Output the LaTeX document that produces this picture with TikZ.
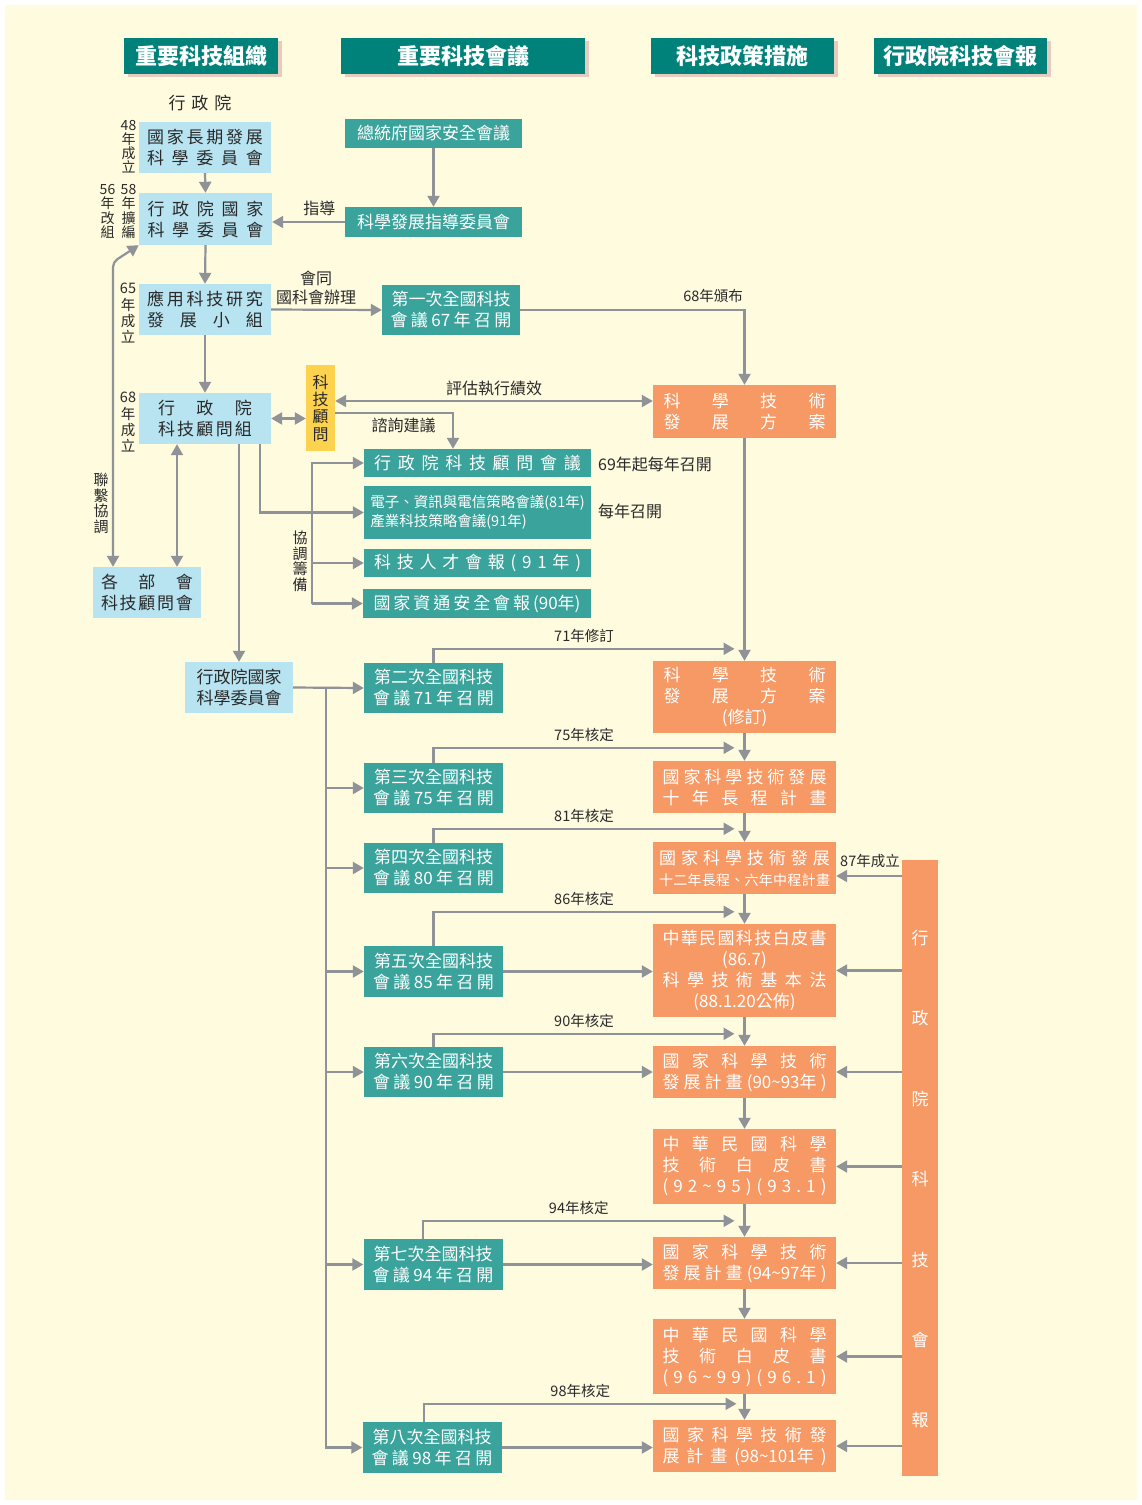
\documentclass[tikz,border=0pt]{standalone}
\usepackage{fontspec}
\setmainfont{Noto Sans CJK TC}
\usetikzlibrary{arrows.meta,shadows}
\definecolor{bgcream}{HTML}{FFFBDF}
\definecolor{hdteal}{HTML}{00827A}
\definecolor{hdshade}{HTML}{E6CBBE}
\definecolor{orgblue}{HTML}{B8E3F1}
\definecolor{mtgteal}{HTML}{3AA39B}
\definecolor{plorange}{HTML}{F79965}
\definecolor{advyellow}{HTML}{FDD24E}
\definecolor{lngray}{HTML}{8F9297}
\definecolor{txtdark}{HTML}{2A2A2A}
% spread a line of spaced characters to a fixed width
\newcommand\sprd[2]{{\spaceskip=0pt plus 1fil\xspaceskip=0pt plus 1fil\makebox[#1pt][s]{#2}}}
\lineskiplimit=-30pt

\begin{document}
\begin{tikzpicture}[x=1pt,y=-1pt,
  >={Triangle[length=11pt,width=12pt]},
  hd/.style={fill=hdteal, text=white, inner sep=0pt, minimum height=36,
    font=\fontsize{22}{24}\selectfont\bfseries,
    drop shadow={shadow xshift=4pt,shadow yshift=-3pt,fill=hdshade,opacity=1}},
  org/.style={fill=orgblue, text=txtdark, inner sep=0pt, align=center, font=\fontsize{17}{21}\selectfont},
  mtg/.style={fill=mtgteal, text=white, inner sep=0pt, align=center, font=\fontsize{17}{21}\selectfont},
  conf/.style={mtg, minimum width=139, minimum height=50},
  plan/.style={fill=plorange, text=white, inner sep=0pt, align=center, minimum width=183, font=\fontsize{17}{21}\selectfont},
  lab/.style={text=txtdark, inner sep=0pt, align=center, font=\fontsize{16}{18.5}\selectfont},
  yrk/.style={text=txtdark, inner sep=0pt, font=\fontsize{14.5}{16}\selectfont},
  yr/.style={text=txtdark, inner sep=0pt, anchor=north, align=center},
  conn/.style={draw=lngray, line width=2.2pt}]
\useasboundingbox (0,0) rectangle (1142,1505);
\fill[white] (0,0) rectangle (1142,1505);
\fill[bgcream] (5,5) rectangle (1137,1500);

% column heads
\node[hd, minimum width=154] (hdA) at (201,56) {重要科技組織};
\node[hd, minimum width=244] (hdB) at (463,56) {重要科技會議};
\node[hd, minimum width=183] (hdC) at (742.5,56) {科技政策措施};
\node[hd, minimum width=173] (hdD) at (960.5,56) {行政院科技會報};

% organisations
\node[lab, font=\fontsize{17}{20}\selectfont] (ey) at (200,103) {\sprd{63}{行 政 院}};
\node[org, minimum width=132, minimum height=51] (nsc48) at (205,147.5) {\sprd{116}{國 家 長 期 發 展}\\\sprd{116}{科 學 委 員 會}};
\node[org, minimum width=133, minimum height=52] (nsc56) at (205.5,219) {\sprd{116}{行 政 院 國 家}\\\sprd{116}{科 學 委 員 會}};
\node[org, minimum width=132, minimum height=51] (app65) at (205,309.5) {\sprd{116}{應 用 科 技 研 究}\\\sprd{116}{發 展 小 組}};
\node[org, minimum width=132, minimum height=51] (stag68) at (205,418.5) {\sprd{94}{行 政 院}\\\sprd{94}{科 技 顧 問 組}};
\node[org, minimum width=108, minimum height=51] (mins) at (147,592.5) {\sprd{92}{各 部 會}\\\sprd{92}{科 技 顧 問 會}};
\node[org, minimum width=108, minimum height=51] (nsc2) at (239,687.5) {行政院國家\\科學委員會};
\node[fill=advyellow, text=txtdark, inner sep=0pt, minimum width=29, minimum height=86, align=center,
  font=\fontsize{16}{17.3}\selectfont] (adv) at (320.5,408) {科\\技\\顧\\問};

\node[yr, font=\fontsize{14}{14}\selectfont] (y48) at (128.5,120) {48\\年\\成\\立};
\node[yr, font=\fontsize{14}{14.5}\selectfont] (y58) at (128.5,184) {58\\年\\擴\\編};
\node[yr, font=\fontsize{14}{14.5}\selectfont] (y56) at (107.5,184) {56\\年\\改\\組};
\node[yr, font=\fontsize{14.5}{16.3}\selectfont] (y65) at (128,283) {65\\年\\成\\立};
\node[yr, font=\fontsize{14.5}{16.3}\selectfont] (y68) at (128,392) {68\\年\\成\\立};
\node[yr, font=\fontsize{15}{15.5}\selectfont] (lnk) at (101,473) {聯\\繫\\協\\調};
\node[yr, font=\fontsize{15}{15.5}\selectfont] (crd) at (300,531) {協\\調\\籌\\備};

% meetings
\node[mtg, minimum width=177, minimum height=29] (nscc) at (433.5,133.5) {總統府國家安全會議};
\node[mtg, minimum width=177, minimum height=30] (sdc) at (433.5,222) {科學發展指導委員會};
\node[conf, minimum width=138] (conf1) at (451,310) {第一次全國科技\\\sprd{121}{會 議 67 年 召 開}};
\node[mtg, minimum width=227, minimum height=28] (advm) at (477.5,463) {\sprd{207}{行 政 院 科 技 顧 問 會 議}};
\node[mtg, minimum width=227, minimum height=53, align=left, font=\fontsize{14.5}{19}\selectfont] (strat) at (477.5,512.5) {電子、資訊與電信策略會議(81年)\\產業科技策略會議(91年)};
\node[mtg, minimum width=227, minimum height=28] (tal) at (477.5,563) {\sprd{207}{科 技 人 才 會 報 ( 9 1 年 )}};
\node[mtg, minimum width=228, minimum height=29] (isec) at (477,603.5) {\sprd{207}{國 家 資 通 安 全 會 報 (90年)}};
\node[lab, anchor=west] (ann69) at (598,464) {69年起每年召開};
\node[lab, anchor=west] (annyr) at (598,511) {每年召開};

\node[conf] (conf2) at (433.5,688) {第二次全國科技\\\sprd{121}{會 議 71 年 召 開}};
\node[conf] (conf3) at (433.5,788) {第三次全國科技\\\sprd{121}{會 議 75 年 召 開}};
\node[conf] (conf4) at (433.5,868) {第四次全國科技\\\sprd{121}{會 議 80 年 召 開}};
\node[conf, minimum height=51] (conf5) at (433.5,971.5) {第五次全國科技\\\sprd{121}{會 議 85 年 召 開}};
\node[conf] (conf6) at (433.5,1072) {第六次全國科技\\\sprd{121}{會 議 90 年 召 開}};
\node[conf, minimum height=51] (conf7) at (433,1264.5) {第七次全國科技\\\sprd{121}{會 議 94 年 召 開}};
\node[conf, minimum height=51] (conf8) at (432,1447.5) {第八次全國科技\\\sprd{121}{會 議 98 年 召 開}};

% policy measures
\node[plan, minimum height=53] (plan1) at (744.5,411.5) {\sprd{162}{科 學 技 術}\\\sprd{162}{發 展 方 案}};
\node[plan, minimum height=72] (plan2) at (744.5,697) {\sprd{162}{科 學 技 術}\\\sprd{162}{發 展 方 案}\\(修訂)};
\node[plan, minimum height=52] (plan3) at (744.5,787) {\sprd{164}{國 家 科 學 技 術 發 展}\\\sprd{164}{十 年 長 程 計 畫}};
\node[plan, minimum height=52] (plan4) at (744.5,868) {\sprd{171}{國 家 科 學 技 術 發 展}\\{\fontsize{14}{21}\selectfont\sprd{171}{十 二 年 長 程 、 六 年 中 程 計 畫}}};
\node[plan, minimum height=93, font=\fontsize{17}{20.7}\selectfont] (plan5) at (744.5,970.5) {\sprd{164}{中 華 民 國 科 技 白 皮 書}\\(86.7)\\\sprd{164}{科 學 技 術 基 本 法}\\(88.1.20公佈)};
\node[plan, minimum height=52] (plan6) at (744.5,1072) {\sprd{164}{國 家 科 學 技 術}\\\sprd{164}{發 展 計 畫 (90\textasciitilde93年 )}};
\node[plan, minimum height=75] (plan7) at (744.5,1166.5) {\sprd{164}{中 華 民 國 科 學}\\\sprd{164}{技 術 白 皮 書}\\\sprd{164}{( 9 2 \textasciitilde{} 9 5 ) ( 9 3 . 1 )}};
\node[plan, minimum height=52] (plan8) at (744.5,1263) {\sprd{164}{國 家 科 學 技 術}\\\sprd{164}{發 展 計 畫 (94\textasciitilde97年 )}};
\node[plan, minimum height=75] (plan9) at (744.5,1356.5) {\sprd{164}{中 華 民 國 科 學}\\\sprd{164}{技 術 白 皮 書}\\\sprd{164}{( 9 6 \textasciitilde{} 9 9 ) ( 9 6 . 1 )}};
\node[plan, minimum height=52] (plan10) at (744.5,1446) {\sprd{164}{國 家 科 學 技 術 發}\\\sprd{164}{展 計 畫 (98\textasciitilde101年 )}};

% cabinet council bar
\node[fill=plorange, inner sep=0pt, minimum width=36, minimum height=616] (bar) at (920,1168) {};
\foreach \c [count=\i from 0] in {行,政,院,科,技,會,報}
  \node[text=white, inner sep=0pt, font=\fontsize{17}{20}\selectfont] (bar\i) at (920,938+80.4*\i) {\c};
\node[yrk] (est87) at (870,861) {87年成立};

\coordinate (lnkx) at (113,0);
\coordinate (brk) at (312,0);
\coordinate (trunk) at (326,0);
\coordinate (c87) at ([yshift=-8pt]plan4.east);

% left connectors
\draw[conn,->] (nsc48.south) -- (nsc56.north);
\draw[conn,->] (nsc56.south) -- (app65.north);
\draw[conn,->] (app65.south) -- (stag68.north);
\draw[conn,<->] (stag68.east) -- (stag68.east -| adv.west);
\draw[conn,<->] ([xshift=-28pt]stag68.south) -- ([xshift=-28pt]stag68.south |- mins.north);
\draw[conn,<->,rounded corners=5pt] (nsc56.south west) -- (lnkx |- 0,262) -- (lnkx |- mins.north);
\draw[conn,->] (nsc2.north |- stag68.south) -- (nsc2.north);
\draw[conn,->] ([xshift=55pt]stag68.south) |- (strat.west);

% meeting connectors
\draw[conn,->] (nscc) -- (sdc);
\draw[conn,->] (sdc.west) -- (sdc.west -| nsc56.east) node[lab, pos=.35, above=5pt] (gd) {指導};
\draw[conn,->] (app65.east) -- (conf1.west);
\node[lab] (jt) at (316,288) {會同\\國科會辦理};
\draw[conn,->] (conf1.east) -| (plan1.north) node[yrk, pos=.43, above=6pt] (k68) {68年頒布};
\draw[conn,<->] ([yshift=7pt]adv.east) -- ([yshift=7pt]adv.east -| plan1.west) node[lab, midway, above=4pt] (ev) {評估執行績效};
\draw[conn,->] ([yshift=-5pt]adv.east) -| ([xshift=-24.5pt]advm.north) node[lab, pos=.29, below=4pt] (cs) {諮詢建議};
\draw[conn,->] (isec.west -| brk) |- (advm.west);
\draw[conn,->] (tal.west -| brk) -- (tal.west);
\draw[conn,->] (isec.west -| brk) -- (isec.west);

\draw[conn,->] (nsc2.east) -- (conf2.west);
\draw[conn,->] (nsc2.east -| trunk) |- (conf8.west);
\foreach \k in {3,...,7}
  \draw[conn,->] (conf\k.west -| trunk) -- (conf\k.west);

\draw[conn,->] (conf2.north) |- ([xshift=-10pt,yshift=12pt]plan2.north) node[yrk, pos=.75, above=5pt] (k71) {71年修訂};
\draw[conn,->] (conf3.north) |- ([xshift=-10pt,yshift=13pt]plan3.north) node[yrk, pos=.75, above=5pt] (k75) {75年核定};
\draw[conn,->] (conf4.north) |- ([xshift=-10pt,yshift=13pt]plan4.north) node[yrk, pos=.75, above=5pt] (k81) {81年核定};
\draw[conn,->] (conf5.north) |- ([xshift=-10pt,yshift=12pt]plan5.north) node[yrk, pos=.75, above=5pt] (k86) {86年核定};
\draw[conn,->] (conf6.north) |- ([xshift=-10pt,yshift=12pt]plan6.north) node[yrk, pos=.75, above=5pt] (k90) {90年核定};
\draw[conn,->] ([xshift=-10pt]conf7.north) |- ([xshift=-10pt,yshift=16pt]plan8.north) node[yrk, pos=.75, above=5pt] (k94) {94年核定};
\draw[conn,->] ([xshift=-8pt]conf8.north) |- ([xshift=-8pt,yshift=16pt]plan10.north) node[yrk, pos=.75, above=5pt] (k98) {98年核定};

\draw[conn,->] (conf5.east) -- (conf5.east -| plan5.west);
\draw[conn,->] (conf6.east) -- (conf6.east -| plan6.west);
\draw[conn,->] (conf7.east) -- (conf7.east -| plan8.west);
\draw[conn,->] (conf8.east) -- (conf8.east -| plan10.west);

% policy chain and council arrows
\foreach \a [evaluate=\a as \b using int(\a+1)] in {1,...,9}
  \draw[conn,->] (plan\a.south) -- (plan\b.north);
\draw[conn,->] (c87 -| bar.west) -- (c87);
\foreach \p in {5,...,10}
  \draw[conn,->] (plan\p.east -| bar.west) -- (plan\p.east);
\end{tikzpicture}
\end{document}
